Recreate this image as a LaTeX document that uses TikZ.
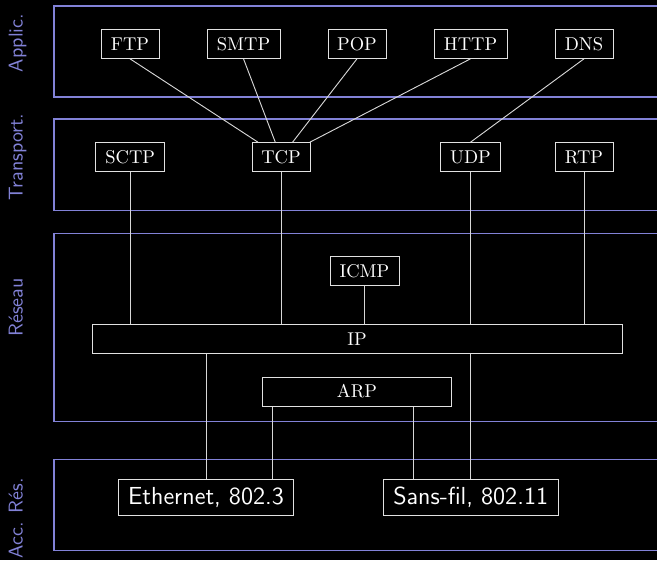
\documentclass[tikz,border=0pt]{standalone}
\usepackage{fontspec}
\definecolor{laycol}{RGB}{130,130,215}
\definecolor{linecol}{RGB}{215,215,215}
\definecolor{boxcol}{RGB}{225,225,225}
\begin{document}
\begin{tikzpicture}[x=0.54pt,y=-0.54pt,
  layer/.style={draw=laycol, line width=0.55pt},
  lab/.style={text=laycol, font=\sffamily\fontsize{10.8}{12}\selectfont, rotate=90, anchor=base, inner sep=0pt},
  proto/.style={draw=boxcol, line width=0.5pt, text=white, fill=black, font=\fontsize{10}{12}\selectfont, inner sep=0pt, minimum height=15.7pt},
  phys/.style={proto, font=\sffamily\fontsize{13.3}{15}\selectfont, minimum height=19.4pt},
  link/.style={draw=linecol, line width=0.5pt}]
\fill[black] (0,0) rectangle (657,560);
\useasboundingbox (0,0) rectangle (657,560);
\clip (0,0) rectangle (657,560);

% layers
\draw[layer] (54,6) rectangle (700,97);
\draw[layer] (54,119) rectangle (700,210);
\draw[layer] (54,233) rectangle (700,421);
\draw[layer] (54,459) rectangle (700,550);

\node[lab] (lApp) at (22.5,43) {Applic.};
\node[lab] (lTra) at (22.5,157) {Transport.};
\node[lab] (lRes) at (22.5,307.5) {Réseau};
\node[lab] (lAcc) at (22.5,518) {Acc. Rés.};

% application
\node[proto, minimum width=31.3pt] (FTP) at (130,43.8) {FTP};
\node[proto, minimum width=39.4pt] (SMTP) at (243.5,43.8) {SMTP};
\node[proto, minimum width=31.3pt] (POP) at (357,43.8) {POP};
\node[proto, minimum width=39.4pt] (HTTP) at (470.5,43.8) {HTTP};
\node[proto, minimum width=31.3pt] (DNS) at (584,43.8) {DNS};

% transport
\node[proto, minimum width=37.3pt] (SCTP) at (130.2,157.2) {SCTP};
\node[proto, minimum width=31.3pt] (TCP) at (281,157.2) {TCP};
\node[proto, minimum width=32.2pt] (UDP) at (470.5,157.2) {UDP};
\node[proto, minimum width=31.3pt] (RTP) at (584,157.2) {RTP};

% network
\node[proto, minimum width=37.3pt] (ICMP) at (364.5,270.7) {ICMP};
\node[proto, minimum width=286.2pt] (IP) at (357,338.7) {IP};
\node[proto, minimum width=102.2pt] (ARP) at (357,391.5) {ARP};

% access
\node[phys, minimum width=94.9pt] (ETH) at (206,497.3) {Ethernet, 802.3};
\node[phys, minimum width=94.3pt] (SF) at (470.7,497.3) {Sans-fil, 802.11};

% connectors
\draw[link] (FTP.south) -- (TCP);
\draw[link] (SMTP.south) -- (TCP);
\draw[link] (POP.south) -- (TCP);
\draw[link] (HTTP.south) -- (TCP);
\draw[link] (DNS.south) -- (UDP.north);

\draw[link] (SCTP.south) -- (SCTP.south |- IP.north);
\draw[link] (TCP.south) -- (TCP.south |- IP.north);
\draw[link] (UDP.south) -- (UDP.south |- IP.north);
\draw[link] (RTP.south) -- (RTP.south |- IP.north);
\draw[link] (ICMP.south) -- (ICMP.south |- IP.north);

\draw[link] (ETH.north |- IP.south) -- (ETH.north);
\draw[link] (SF.north |- IP.south) -- (SF.north);

\coordinate (arpL) at (272.3,0);
\coordinate (arpR) at (413,0);
\draw[link] (arpL |- ARP.south) -- (arpL |- ETH.north);
\draw[link] (arpR |- ARP.south) -- (arpR |- SF.north);
\end{tikzpicture}
\end{document}
